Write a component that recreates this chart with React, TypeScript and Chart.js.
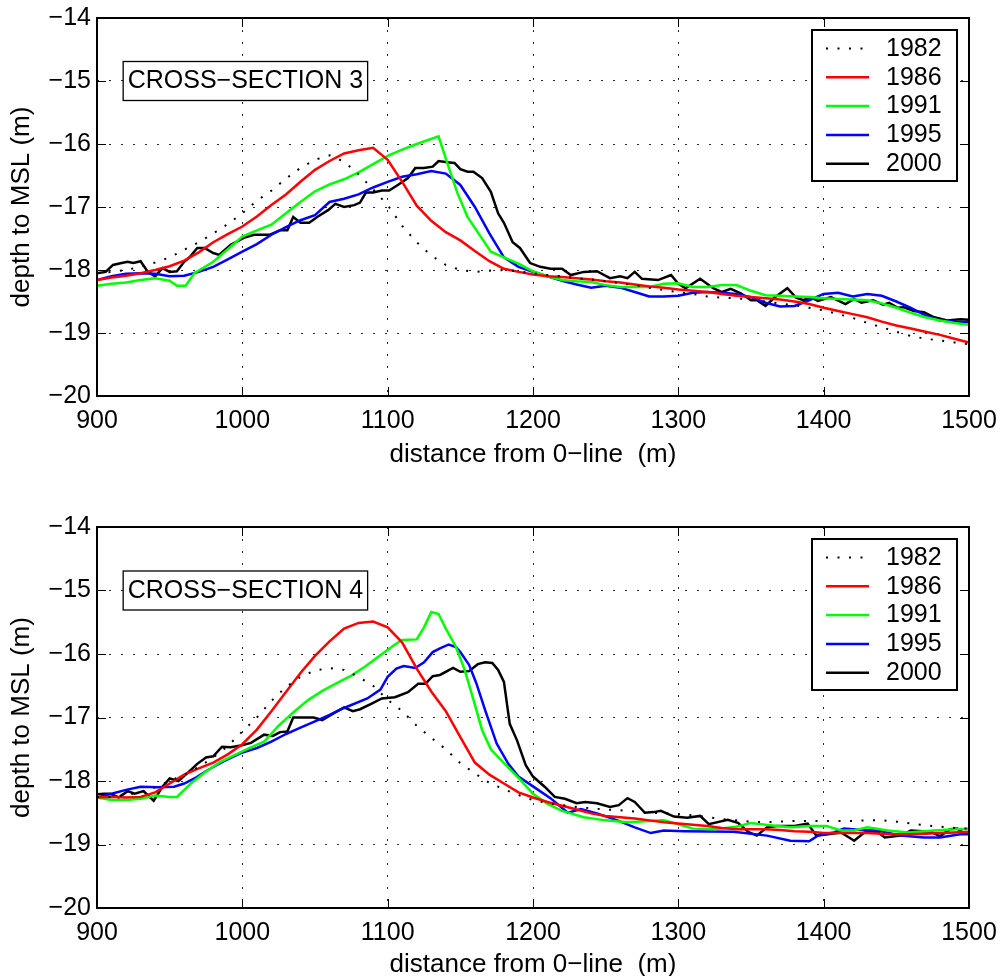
import React, { useEffect, useRef } from "react";
import { Chart, registerables } from "chart.js";

Chart.register(...registerables);

const FONT = '"Liberation Sans", Arial, Helvetica, sans-serif';

const YEARS = ["1982", "1986", "1991", "1995", "2000"];
const LINE_COLORS = ["#000000", "#ff0000", "#00ff00", "#0000ff", "#000000"];

const X_MIN = 900;
const X_MAX = 1500;
const X_STEP = 100;
const Y_MIN = -20;
const Y_MAX = -14;
const Y_STEP = 1;

const X_TITLE = "distance from 0\u2212line  (m)";
const Y_TITLE = "depth to MSL (m)";
const PANEL_LABELS = ["CROSS\u2212SECTION 3", "CROSS\u2212SECTION 4"];
const LABEL_POS_X = 918;
const LABEL_POS_Y = -15;

// common 10 m distance grid
const DIST_10 = [
  900, 910, 920, 930, 940, 950, 960, 970, 980, 990, 1000, 1010, 1020, 1030, 1040, 1050, 1060, 1070, 1080, 1090,
  1100, 1110, 1120, 1130, 1140, 1150, 1160, 1170, 1180, 1190, 1200, 1210, 1220, 1230, 1240, 1250, 1260, 1270, 1280,
  1290, 1300, 1310, 1320, 1330, 1340, 1350, 1360, 1370, 1380, 1390, 1400, 1410, 1420, 1430, 1440, 1450, 1460, 1470,
  1480, 1490, 1500,
];

// ---------- Cross-section 3 ----------
const CS3_1982 = [
  -18.05, -18.03, -18.0, -17.95, -17.88, -17.8, -17.68, -17.56, -17.42, -17.27, -17.1, -16.9, -16.74, -16.55, -16.38,
  -16.25, -16.18, -16.28, -16.48, -16.72, -16.97, -17.3, -17.56, -17.77, -17.92, -18.0, -18.03, -18.01, -18.0, -18.02,
  -18.05, -18.08, -18.1, -18.13, -18.15, -18.18, -18.21, -18.24, -18.28, -18.32, -18.35, -18.38, -18.42, -18.44,
  -18.45, -18.47, -18.5, -18.53, -18.56, -18.6, -18.64, -18.7, -18.76, -18.84, -18.91, -18.98, -19.05, -19.09, -19.12,
  -19.15, -19.18,
];
const CS3_1986 = [
  -18.16, -18.12, -18.09, -18.05, -18.0, -17.94, -17.85, -17.72, -17.56, -17.43, -17.31, -17.15, -16.97, -16.8, -16.6,
  -16.41, -16.27, -16.15, -16.1, -16.06, -16.25, -16.6, -16.98, -17.22, -17.4, -17.53, -17.7, -17.86, -17.98, -18.03,
  -18.07, -18.1, -18.11, -18.13, -18.15, -18.18, -18.2, -18.23, -18.26, -18.28, -18.31, -18.33, -18.35, -18.38, -18.41,
  -18.43, -18.45, -18.47, -18.5, -18.54, -18.6, -18.65, -18.7, -18.75, -18.82, -18.88, -18.93, -18.98, -19.03, -19.09,
  -19.15,
];
const CS3_1991_X = [
  900, 910, 920, 930, 940, 950, 955, 961, 967, 980, 990, 1000, 1010, 1020, 1030, 1040, 1050, 1060, 1070, 1080, 1090,
  1100, 1110, 1120, 1135, 1141, 1148, 1155, 1164, 1171, 1180, 1190, 1200, 1210, 1220, 1230, 1240, 1250, 1260, 1270,
  1280, 1290, 1300, 1310, 1320, 1330, 1340, 1350, 1360, 1370, 1380, 1390, 1400, 1410, 1420, 1430, 1440, 1450, 1460,
  1470, 1480, 1490, 1500,
];
const CS3_1991 = [
  -18.25, -18.22, -18.2, -18.16, -18.13, -18.17, -18.25, -18.25, -18.05, -17.87, -17.67, -17.47, -17.37, -17.28, -17.1,
  -16.92, -16.75, -16.64, -16.56, -16.45, -16.32, -16.19, -16.09, -16.0, -15.88, -16.3, -16.78, -17.16, -17.47, -17.71,
  -17.8, -17.9, -18.02, -18.1, -18.16, -18.18, -18.19, -18.24, -18.27, -18.27, -18.27, -18.22, -18.21, -18.27, -18.27,
  -18.24, -18.24, -18.33, -18.4, -18.41, -18.42, -18.43, -18.45, -18.46, -18.47, -18.48, -18.53, -18.6, -18.68, -18.75,
  -18.8, -18.84, -18.87,
];
const CS3_1995 = [
  -18.16, -18.1, -18.06, -18.05, -18.06, -18.1, -18.09, -18.03, -17.95, -17.83, -17.71, -17.59, -17.44, -17.32, -17.21,
  -17.13, -16.92, -16.87, -16.8, -16.69, -16.6, -16.52, -16.48, -16.43, -16.47, -16.65, -17.0, -17.42, -17.8, -17.95,
  -18.03, -18.1, -18.17, -18.23, -18.28, -18.25, -18.28, -18.35, -18.42, -18.42, -18.41, -18.36, -18.35, -18.36,
  -18.38, -18.43, -18.52, -18.58, -18.57, -18.48, -18.38, -18.36, -18.42, -18.38, -18.41, -18.5, -18.6, -18.72, -18.8,
  -18.82, -18.83,
];
const CS3_2000_X = [
  900, 906, 911, 917, 921, 925, 930, 935, 940, 945, 950, 955, 960, 964, 969, 974, 980, 984, 992, 1001, 1008, 1019,
  1026, 1031, 1035, 1040, 1046, 1052, 1059, 1064, 1070, 1077, 1081, 1085, 1090, 1096, 1101, 1107, 1114, 1119, 1125,
  1131, 1135, 1141, 1146, 1150, 1155, 1159, 1165, 1171, 1176, 1180, 1186, 1191, 1198, 1205, 1212, 1220, 1226, 1235,
  1244, 1253, 1260, 1265, 1270, 1275, 1286, 1295, 1300, 1305, 1315, 1324, 1330, 1336, 1343, 1350, 1354, 1360, 1366,
  1375, 1381, 1386, 1391, 1396, 1405, 1415, 1421, 1426, 1434, 1441, 1445, 1451, 1455, 1462, 1469, 1476, 1485, 1494,
  1500,
];
const CS3_2000 = [
  -18.05, -18.03, -17.92, -17.89, -17.87, -17.89, -17.86, -18.03, -18.1, -17.97, -18.03, -18.02, -17.87, -17.79,
  -17.65, -17.65, -17.73, -17.76, -17.6, -17.49, -17.44, -17.44, -17.37, -17.37, -17.16, -17.25, -17.25, -17.15,
  -17.05, -16.95, -17.0, -16.97, -16.93, -16.77, -16.77, -16.74, -16.74, -16.65, -16.54, -16.38, -16.38, -16.36,
  -16.27, -16.29, -16.3, -16.4, -16.44, -16.44, -16.54, -16.76, -17.1, -17.25, -17.56, -17.65, -17.89, -17.95, -17.98,
  -17.98, -18.08, -18.03, -18.02, -18.13, -18.1, -18.13, -18.03, -18.14, -18.16, -18.08, -18.22, -18.29, -18.14,
  -18.29, -18.35, -18.3, -18.37, -18.48, -18.48, -18.57, -18.44, -18.29, -18.44, -18.48, -18.43, -18.49, -18.43,
  -18.54, -18.46, -18.52, -18.48, -18.55, -18.52, -18.6, -18.59, -18.65, -18.67, -18.75, -18.8, -18.78, -18.79,
];

// ---------- Cross-section 4 ----------
const CS4_1982 = [
  -18.25, -18.25, -18.22, -18.18, -18.1, -18.0, -17.9, -17.78, -17.63, -17.45, -17.22, -17.0, -16.74, -16.52, -16.36,
  -16.26, -16.22, -16.25, -16.36, -16.5, -16.72, -16.9, -17.13, -17.32, -17.5, -17.72, -17.88, -18.03, -18.13, -18.22,
  -18.3, -18.35, -18.38, -18.41, -18.43, -18.45, -18.46, -18.48, -18.5, -18.51, -18.52, -18.54, -18.57, -18.6, -18.62,
  -18.64, -18.65, -18.64, -18.63, -18.63, -18.63, -18.63, -18.63, -18.62, -18.62, -18.64, -18.67, -18.7, -18.72,
  -18.74, -18.75,
];
const CS4_1986 = [
  -18.26, -18.25, -18.26, -18.25, -18.18, -18.04, -17.9, -17.8, -17.71, -17.58, -17.42, -17.19, -16.9, -16.6, -16.3,
  -16.03, -15.8, -15.6, -15.51, -15.49, -15.58, -15.82, -16.23, -16.59, -16.9, -17.31, -17.71, -17.9, -18.04, -18.18,
  -18.26, -18.33, -18.39, -18.45, -18.51, -18.55, -18.57, -18.59, -18.62, -18.65, -18.67, -18.69, -18.71, -18.74,
  -18.76, -18.76, -18.76, -18.77, -18.79, -18.8, -18.82, -18.82, -18.82, -18.82, -18.83, -18.84, -18.84, -18.83,
  -18.82, -18.81, -18.8,
];
const CS4_1991_X = [
  900, 910, 920, 930, 940, 950, 955, 965, 975, 985, 995, 1005, 1015, 1025, 1035, 1045, 1055, 1065, 1075, 1085, 1095,
  1105, 1110, 1120, 1125, 1130, 1135, 1140, 1147, 1153, 1159, 1165, 1171, 1180, 1190, 1200, 1210, 1220, 1235, 1250,
  1265, 1280, 1290, 1300, 1310, 1325, 1340, 1350, 1360, 1377, 1390, 1402, 1412, 1421, 1430, 1444, 1458, 1476, 1490,
  1500,
];
const CS4_1991 = [
  -18.26, -18.3, -18.3, -18.28, -18.23, -18.25, -18.25, -18.03, -17.85, -17.7, -17.59, -17.48, -17.38, -17.13, -16.92,
  -16.73, -16.58, -16.46, -16.34, -16.19, -16.02, -15.85, -15.78, -15.77, -15.58, -15.34, -15.37, -15.6, -15.89,
  -16.25, -16.72, -17.2, -17.5, -17.72, -17.95, -18.2, -18.36, -18.47, -18.57, -18.62, -18.65, -18.63, -18.62, -18.68,
  -18.75, -18.76, -18.72, -18.66, -18.69, -18.73, -18.71, -18.71, -18.78, -18.78, -18.73, -18.78, -18.81, -18.78,
  -18.76, -18.75,
];
const CS4_1995_X = [
  900, 910, 920, 930, 942, 953, 960, 967, 976, 987, 999, 1010, 1020, 1030, 1040, 1050, 1060, 1070, 1086, 1095, 1100,
  1106, 1111, 1119, 1125, 1131, 1136, 1142, 1147, 1150, 1156, 1161, 1167, 1175, 1183, 1190, 1201, 1212, 1224, 1233,
  1244, 1258, 1270, 1281, 1290, 1304, 1338, 1361, 1377, 1390, 1396, 1407, 1414, 1426, 1437, 1453, 1469, 1480, 1494,
  1500,
];
const CS4_1995 = [
  -18.26, -18.2, -18.14, -18.09, -18.1, -18.09, -18.04, -17.96, -17.83, -17.69, -17.56, -17.48, -17.38, -17.26, -17.16,
  -17.06, -16.96, -16.85, -16.7, -16.56, -16.36, -16.23, -16.19, -16.22, -16.13, -15.97, -15.91, -15.85, -15.89,
  -15.97, -16.17, -16.46, -16.88, -17.41, -17.73, -17.93, -18.1, -18.27, -18.5, -18.44, -18.51, -18.62, -18.73, -18.82,
  -18.78, -18.79, -18.8, -18.86, -18.94, -18.95, -18.86, -18.81, -18.75, -18.77, -18.78, -18.86, -18.89, -18.89,
  -18.84, -18.84,
];
const CS4_2000_X = [
  900, 905, 909, 915, 921, 926, 932, 939, 945, 950, 956, 962, 969, 975, 980, 986, 992, 999, 1006, 1015, 1021, 1026,
  1031, 1035, 1042, 1049, 1055, 1063, 1070, 1076, 1081, 1089, 1096, 1105, 1114, 1121, 1126, 1131, 1136, 1145, 1150,
  1156, 1162, 1167, 1172, 1176, 1180, 1184, 1189, 1195, 1200, 1208, 1215, 1222, 1230, 1236, 1244, 1253, 1259, 1265,
  1270, 1277, 1283, 1288, 1297, 1306, 1315, 1321, 1334, 1341, 1348, 1354, 1361, 1368, 1380, 1389, 1395, 1403, 1412,
  1421, 1428, 1437, 1442, 1453, 1460, 1474, 1480, 1487, 1492, 1497, 1500,
];
const CS4_2000 = [
  -18.21, -18.2, -18.2, -18.26, -18.16, -18.2, -18.16, -18.31, -18.09, -17.96, -18.0, -17.88, -17.73, -17.63, -17.61,
  -17.46, -17.47, -17.44, -17.4, -17.27, -17.29, -17.23, -17.22, -17.0, -17.0, -17.0, -17.04, -16.93, -16.84, -16.9,
  -16.87, -16.78, -16.7, -16.68, -16.6, -16.47, -16.47, -16.35, -16.33, -16.22, -16.28, -16.27, -16.16, -16.13,
  -16.14, -16.25, -16.44, -17.1, -17.36, -17.75, -17.93, -18.09, -18.25, -18.28, -18.35, -18.33, -18.35, -18.41,
  -18.38, -18.27, -18.33, -18.5, -18.49, -18.47, -18.56, -18.58, -18.55, -18.68, -18.61, -18.66, -18.8, -18.86, -18.73,
  -18.71, -18.71, -18.67, -18.86, -18.84, -18.81, -18.94, -18.81, -18.8, -18.89, -18.86, -18.78, -18.8, -18.87, -18.76,
  -18.75, -18.83, -18.81,
];

type Series = { x: number[]; y: number[] };

const PANEL_3: Series[] = [
  { x: DIST_10, y: CS3_1982 },
  { x: DIST_10, y: CS3_1986 },
  { x: CS3_1991_X, y: CS3_1991 },
  { x: DIST_10, y: CS3_1995 },
  { x: CS3_2000_X, y: CS3_2000 },
];
const PANEL_4: Series[] = [
  { x: DIST_10, y: CS4_1982 },
  { x: DIST_10, y: CS4_1986 },
  { x: CS4_1991_X, y: CS4_1991 },
  { x: CS4_1995_X, y: CS4_1995 },
  { x: CS4_2000_X, y: CS4_2000 },
];

const DOT_DASH = [2, 9.5];

const fmtNum = (v: number) => (v < 0 ? "\u2212" + Math.abs(v) : String(v));

function makeFramePlugin(label: string) {
  return {
    id: "frame",
    afterDatasetsDraw(chart: any) {
      const { ctx, chartArea } = chart;
      const { left, right, top, bottom } = chartArea;
      const xs = chart.scales.x;
      const ys = chart.scales.y;
      ctx.save();
      // inward ticks on all four sides
      ctx.strokeStyle = "#000";
      ctx.lineWidth = 1;
      ctx.setLineDash([]);
      ctx.beginPath();
      xs.ticks.forEach((t: any) => {
        const px = Math.round(xs.getPixelForValue(t.value)) + 0.5;
        ctx.moveTo(px, bottom);
        ctx.lineTo(px, bottom - 9);
        ctx.moveTo(px, top);
        ctx.lineTo(px, top + 9);
      });
      ys.ticks.forEach((t: any) => {
        const py = Math.round(ys.getPixelForValue(t.value)) + 0.5;
        ctx.moveTo(left, py);
        ctx.lineTo(left + 9, py);
        ctx.moveTo(right, py);
        ctx.lineTo(right - 9, py);
      });
      ctx.stroke();
      // axes box
      ctx.lineWidth = 2;
      ctx.strokeRect(left, top, right - left, bottom - top);

      // panel label box
      ctx.font = `25px ${FONT}`;
      ctx.textBaseline = "middle";
      ctx.textAlign = "left";
      const tw = ctx.measureText(label).width;
      const ax = xs.getPixelForValue(LABEL_POS_X);
      const ay = ys.getPixelForValue(LABEL_POS_Y);
      ctx.fillStyle = "#fff";
      ctx.fillRect(ax, ay - 19.5, tw + 9, 39);
      ctx.lineWidth = 1.3;
      ctx.strokeStyle = "#000";
      ctx.strokeRect(ax, ay - 19.5, tw + 9, 39);
      ctx.fillStyle = "#000";
      ctx.fillText(label, ax + 4.5, ay + 0.5);

      // legend
      const lx0 = right - 157;
      const ly0 = top + 12;
      const lw = 145;
      const lh = 151;
      ctx.fillStyle = "#fff";
      ctx.fillRect(lx0, ly0, lw, lh);
      ctx.lineWidth = 2;
      ctx.strokeStyle = "#000";
      ctx.strokeRect(lx0, ly0, lw, lh);
      chart.data.datasets.forEach((ds: any, i: number) => {
        const cy = ly0 + 18.5 + i * 28.8;
        ctx.beginPath();
        ctx.setLineDash(ds.borderDash || []);
        ctx.lineWidth = ds.borderWidth;
        ctx.strokeStyle = ds.borderColor;
        ctx.moveTo(lx0 + 14, cy);
        ctx.lineTo(lx0 + 57, cy);
        ctx.stroke();
        ctx.setLineDash([]);
        ctx.fillStyle = "#000";
        ctx.font = `25px ${FONT}`;
        ctx.textBaseline = "middle";
        ctx.textAlign = "left";
        ctx.fillText(ds.label, lx0 + 74, cy + 0.5);
      });
      ctx.restore();
    },
  };
}

type PanelSpec = {
  series: Series[];
  label: string;
  height: number;
  top: number;
  xAxisHeight: number;
  xTitlePad: number;
};

function buildConfig(p: PanelSpec): any {
  const tickFont = { family: FONT, size: 25, lineHeight: 1.2 };
  const titleFont = { family: FONT, size: 26, lineHeight: 1 };
  return {
    type: "line",
    data: {
      datasets: p.series.map((s, i) => ({
        label: YEARS[i],
        data: s.x.map((xv, j) => ({ x: xv, y: s.y[j] })),
        borderColor: LINE_COLORS[i],
        backgroundColor: LINE_COLORS[i],
        borderWidth: i === 0 ? 2 : 2.5,
        borderDash: i === 0 ? DOT_DASH : [],
        borderCapStyle: "butt",
        pointRadius: 0,
        pointHoverRadius: 0,
        fill: false,
        tension: 0,
      })),
    },
    options: {
      animation: false,
      responsive: false,
      devicePixelRatio: 1,
      events: [],
      layout: { padding: { left: 0, right: 33, top: p.top, bottom: 0 } },
      plugins: {
        legend: { display: false },
        tooltip: { enabled: false },
        title: { display: false },
      },
      scales: {
        x: {
          type: "linear",
          min: X_MIN,
          max: X_MAX,
          ticks: {
            stepSize: X_STEP,
            padding: 10,
            color: "#000",
            font: tickFont,
            maxRotation: 0,
            autoSkip: false,
            callback: (v: number) => String(v),
          },
          grid: { color: "rgba(0,0,0,0.85)", lineWidth: 1, drawTicks: false },
          border: { display: false, dash: [2, 10] },
          title: {
            display: true,
            text: X_TITLE,
            color: "#000",
            font: titleFont,
            padding: { top: 0, bottom: p.xTitlePad },
          },
          afterFit: (scale: any) => {
            scale.height = p.xAxisHeight;
            scale.paddingLeft = 0;
            scale.paddingRight = 0;
          },
        },
        y: {
          type: "linear",
          min: Y_MIN,
          max: Y_MAX,
          ticks: {
            stepSize: Y_STEP,
            padding: 6,
            color: "#000",
            font: tickFont,
            autoSkip: false,
            callback: (v: number) => fmtNum(v),
          },
          grid: { color: "rgba(0,0,0,0.85)", lineWidth: 1, drawTicks: false },
          border: { display: false, dash: [2, 10] },
          title: {
            display: true,
            text: Y_TITLE,
            color: "#000",
            font: titleFont,
            padding: { top: 9, bottom: 0 },
          },
          afterFit: (scale: any) => {
            scale.width = 97;
            scale.paddingTop = 0;
            scale.paddingBottom = 0;
          },
        },
      },
    },
    plugins: [makeFramePlugin(p.label)],
  };
}

function Panel({ spec }: { spec: PanelSpec }) {
  const ref = useRef<HTMLCanvasElement | null>(null);
  useEffect(() => {
    if (!ref.current) return;
    const chart = new Chart(ref.current, buildConfig(spec));
    return () => chart.destroy();
  }, [spec]);
  return (
    <canvas
      ref={ref}
      width={1002}
      height={spec.height}
      style={{ display: "block", width: 1002, height: spec.height }}
    />
  );
}

const SPEC_3: PanelSpec = {
  series: PANEL_3,
  label: PANEL_LABELS[0],
  height: 488,
  top: 18,
  xAxisHeight: 92,
  xTitlePad: 20,
};
const SPEC_4: PanelSpec = {
  series: PANEL_4,
  label: PANEL_LABELS[1],
  height: 488,
  top: 39,
  xAxisHeight: 68,
  xTitlePad: -2,
};

export default function App() {
  useEffect(() => {
    document.body.style.margin = "0";
  }, []);
  return (
    <div style={{ width: 1002, height: 976, background: "#fff", overflow: "hidden" }}>
      <style>{`body{margin:0;background:#fff;}`}</style>
      <Panel spec={SPEC_3} />
      <Panel spec={SPEC_4} />
    </div>
  );
}
